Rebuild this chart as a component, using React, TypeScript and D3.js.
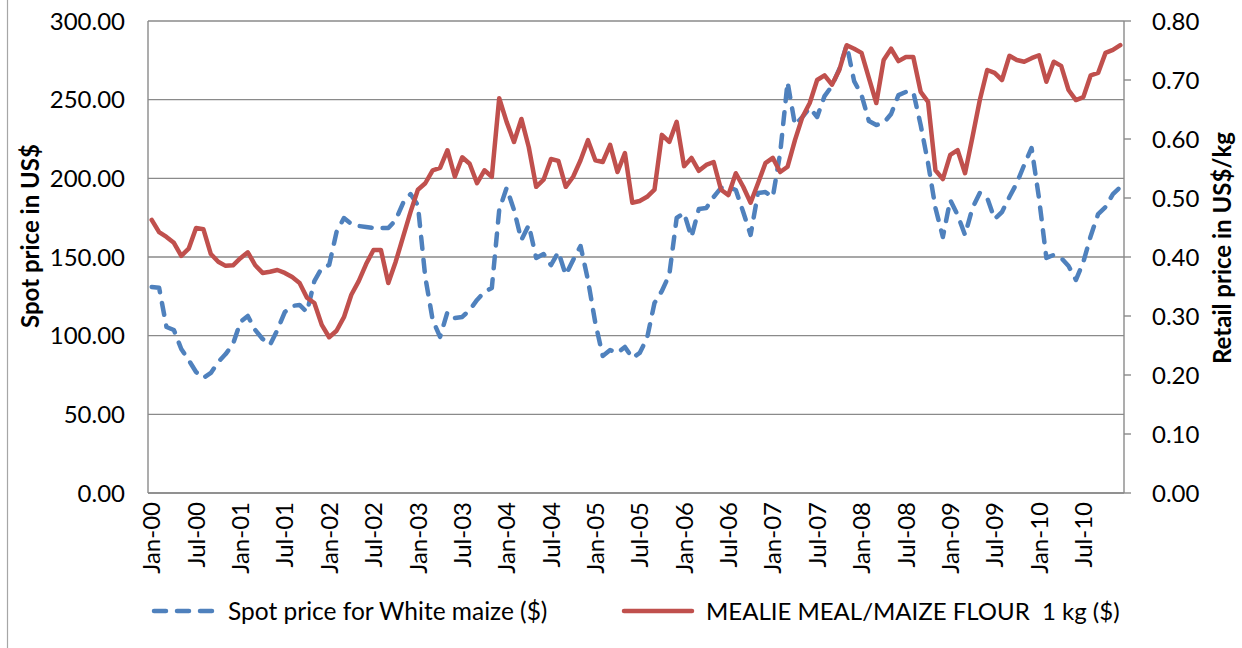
import React from 'react';
import * as d3 from 'd3';

// ---- data ----
const months: Date[] = d3.timeMonth.range(new Date(2000, 0, 1), new Date(2011, 0, 1));
const tickLabels = [
  'Jan-00', 'Jul-00', 'Jan-01', 'Jul-01', 'Jan-02', 'Jul-02', 'Jan-03', 'Jul-03',
  'Jan-04', 'Jul-04', 'Jan-05', 'Jul-05', 'Jan-06', 'Jul-06', 'Jan-07', 'Jul-07',
  'Jan-08', 'Jul-08', 'Jan-09', 'Jul-09', 'Jan-10', 'Jul-10',
];
const leftTicks = [0, 50, 100, 150, 200, 250, 300];
const rightTicks = [0, 0.1, 0.2, 0.3, 0.4, 0.5, 0.6, 0.7, 0.8];

const spotWhiteMaize = [
  131.0, 130.5, 105.5, 103.6, 91.5, 84.5, 76.9, 73.1, 76.3, 83.3, 88.3, 94.7,
  108.7, 112.5, 103.6, 97.9, 94.1, 103.6, 115.0, 118.9, 119.5, 115.0, 134.7, 143.0,
  144.9, 165.9, 174.8, 171.0, 169.7, 169.1, 168.4, 168.4, 168.4, 173.5, 184.3, 190.0,
  183.0, 137.3, 110.0, 99.2, 115.0, 111.2, 111.9, 116.3, 122.7, 127.8, 130.3, 179.9,
  193.9, 179.9, 160.8, 170.3, 149.4, 151.9, 144.9, 153.2, 138.6, 148.1, 157.0, 135.4,
  108.1, 87.1, 90.9, 89.0, 92.8, 85.8, 89.0, 98.5, 120.8, 128.4, 138.6, 174.8,
  178.0, 162.7, 180.5, 181.1, 188.1, 193.9, 194.5, 192.6, 178.6, 164.0, 190.7, 191.3,
  188.1, 216.1, 261.2, 233.9, 239.0, 244.7, 239.0, 252.3, 258.7, 269.5, 284.8, 261.8,
  253.0, 236.4, 233.9, 235.2, 240.9, 252.9, 254.9, 254.9, 233.9, 209.7, 181.1, 162.7,
  186.2, 176.7, 164.0, 181.1, 190.7, 187.5, 174.2, 178.6, 188.1, 197.0, 208.5, 219.3,
  187.5, 149.4, 151.3, 149.4, 144.3, 135.4, 146.8, 163.4, 177.3, 181.8, 190.0, 194.5,
];

const retailMealieMeal = [
  0.463, 0.442, 0.434, 0.424, 0.402, 0.414, 0.449, 0.447, 0.405, 0.392, 0.385, 0.386,
  0.398, 0.408, 0.386, 0.373, 0.375, 0.378, 0.373, 0.366, 0.356, 0.331, 0.322, 0.285,
  0.264, 0.275, 0.298, 0.336, 0.359, 0.388, 0.412, 0.412, 0.356, 0.392, 0.434, 0.476,
  0.514, 0.525, 0.547, 0.551, 0.581, 0.536, 0.569, 0.558, 0.525, 0.547, 0.536, 0.669,
  0.629, 0.595, 0.634, 0.586, 0.519, 0.531, 0.566, 0.563, 0.519, 0.536, 0.564, 0.598,
  0.564, 0.561, 0.590, 0.544, 0.576, 0.492, 0.495, 0.502, 0.514, 0.607, 0.595, 0.629,
  0.554, 0.568, 0.546, 0.556, 0.561, 0.514, 0.505, 0.542, 0.519, 0.492, 0.525, 0.559,
  0.568, 0.544, 0.553, 0.598, 0.637, 0.661, 0.700, 0.708, 0.692, 0.717, 0.759, 0.753,
  0.746, 0.703, 0.661, 0.734, 0.753, 0.732, 0.739, 0.739, 0.680, 0.663, 0.547, 0.532,
  0.573, 0.581, 0.542, 0.603, 0.666, 0.717, 0.712, 0.700, 0.741, 0.734, 0.731, 0.737,
  0.742, 0.697, 0.731, 0.724, 0.683, 0.666, 0.671, 0.708, 0.712, 0.746, 0.751, 0.759,
];

const seriesNames = ['Spot price for White maize ($)', 'MEALIE MEAL/MAIZE FLOUR  1 kg ($)'];
const axisTitles = ['Spot price in US$', 'Retail price in US$/kg'];

// ---- layout ----
const W = 1242;
const H = 648;
const L = 148;
const R = 1124;
const T = 21;
const B = 493;
const FONT = 'Lato, "Open Sans", sans-serif';
const BLUE = '#4F81BD';
const RED = '#C0504D';
const GRID = '#8a8a8a';

const fmtMonth = d3.timeFormat('%b-%y');

export default function App() {
  const x = d3.scaleBand<number>().domain(d3.range(months.length)).range([L, R]).padding(0);
  const cx = (i: number) => (x(i) as number) + x.bandwidth() / 2;
  const yL = d3.scaleLinear().domain([0, 300]).range([B, T]);
  const yR = d3.scaleLinear().domain([0, 0.8]).range([B, T]);

  const blueLine = d3.line<number>().x((_, i) => cx(i)).y((d) => yL(d))(spotWhiteMaize) || '';
  const redLine = d3.line<number>().x((_, i) => cx(i)).y((d) => yR(d))(retailMealieMeal) || '';

  const labelIdx = months
    .map((m, i) => ({ m, i }))
    .filter(({ m }) => tickLabels.includes(fmtMonth(m)));

  return (
    <svg
      width={W}
      height={H}
      style={{ position: 'absolute', left: 0, top: 0, background: '#fff' }}
      fontFamily={FONT}
    >
      <rect x={0} y={0} width={W} height={H} fill="#fff" />
      <line x1={7.5} x2={7.5} y1={0} y2={H} stroke="#a6a6a6" strokeWidth={1.2} />

      {/* gridlines */}
      {leftTicks.map((t) => (
        <line key={'g' + t} x1={L} x2={R} y1={yL(t)} y2={yL(t)} stroke={GRID} strokeWidth={1.4} />
      ))}
      {/* axes */}
      <line x1={L} x2={L} y1={T} y2={B} stroke={GRID} strokeWidth={1.4} />
      <line x1={R} x2={R} y1={T} y2={B} stroke={GRID} strokeWidth={1.4} />
      <line x1={L} x2={R} y1={B} y2={B} stroke={GRID} strokeWidth={1.4} />
      {rightTicks.map((t) => (
        <line key={'rt' + t} x1={R} x2={R + 7} y1={yR(t)} y2={yR(t)} stroke={GRID} strokeWidth={1.4} />
      ))}

      {/* left tick labels */}
      {leftTicks.map((t) => (
        <text key={'lt' + t} x={125} y={yL(t)} dy="0.36em" textAnchor="end" fontSize={24} fill="#000">
          {t.toFixed(2)}
        </text>
      ))}
      {/* right tick labels */}
      {rightTicks.map((t) => (
        <text key={'rl' + t} x={1152} y={yR(t)} dy="0.36em" textAnchor="start" fontSize={24} fill="#000">
          {t.toFixed(2)}
        </text>
      ))}

      {/* x labels */}
      {labelIdx.map(({ m, i }) => (
        <text
          key={'x' + i}
          transform={`translate(${cx(i)},${B + 9}) rotate(-90)`}
          dy="0.36em"
          textAnchor="end"
          fontSize={24}
          fill="#000"
        >
          {fmtMonth(m)}
        </text>
      ))}

      {/* axis titles */}
      <text
        transform={`translate(30,236) rotate(-90)`}
        dy="0.36em"
        textAnchor="middle"
        fontSize={24}
        fontWeight="bold"
        fill="#000"
      >
        {axisTitles[0]}
      </text>
      <text
        transform={`translate(1222,248) rotate(-90)`}
        dy="0.36em"
        textAnchor="middle"
        fontSize={24}
        fontWeight="bold"
        fill="#000"
      >
        {axisTitles[1]}
      </text>

      {/* series */}
      <path
        d={blueLine}
        fill="none"
        stroke={BLUE}
        strokeWidth={4.5}
        strokeDasharray="12 11"
        strokeLinecap="round"
        strokeLinejoin="round"
      />
      <path d={redLine} fill="none" stroke={RED} strokeWidth={4.5} strokeLinecap="round" strokeLinejoin="round" />

      {/* legend */}
      <line
        x1={154}
        x2={212}
        y1={611}
        y2={611}
        stroke={BLUE}
        strokeWidth={4.5}
        strokeDasharray="12 11"
        strokeLinecap="round"
      />
      <text x={228} y={611} dy="0.36em" fontSize={24.5} fill="#000">
        {seriesNames[0]}
      </text>
      <line x1={624} x2={692} y1={611} y2={611} stroke={RED} strokeWidth={4.5} strokeLinecap="round" />
      <text x={706} y={611} dy="0.36em" fontSize={24} fill="#000" style={{ whiteSpace: 'pre' }}>
        {seriesNames[1]}
      </text>
    </svg>
  );
}
